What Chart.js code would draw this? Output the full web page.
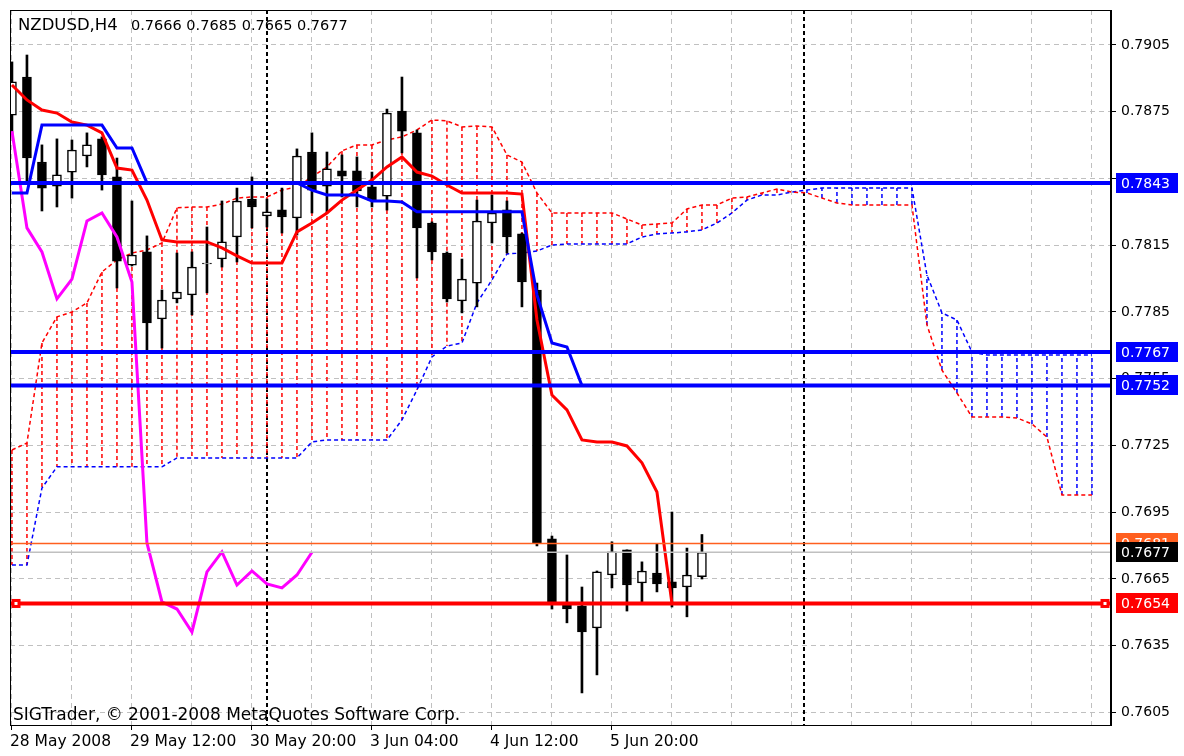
<!DOCTYPE html>
<html>
<head>
<meta charset="utf-8">
<script src="https://cdn.jsdelivr.net/npm/chart.js@4.4.1/dist/chart.umd.min.js"></script>
<style>
  html, body { margin: 0; padding: 0; background: #fff; }
  #wrap { position: relative; width: 1184px; height: 756px; }
</style>
</head>
<body>
<div id="wrap"><canvas id="grafico"></canvas></div>
<script>
// --- DATA ---
const titleText = 'NZDUSD,H4';
const lastQuote = '0.7666 0.7685 0.7665 0.7677';
const copyrightText = 'SIGTrader, \u00A9 2001-2008 MetaQuotes Software Corp.';

// candles, bar 0 = 28 May 2008
const opens  = [0.78735, 0.78906, 0.78524, 0.78416, 0.78479, 0.78551, 0.78628, 0.78457, 0.78061, 0.78120,
                0.77819, 0.77909, 0.77927, 0.78066, 0.78088, 0.78187, 0.78358, 0.78282, 0.78309, 0.78273,
                0.78569, 0.78416, 0.78484, 0.78484, 0.78412, 0.78371, 0.78753, 0.78655, 0.78250, 0.78115,
                0.77900, 0.77980, 0.78250, 0.78309, 0.78201, 0.77949, 0.76830, 0.76542, 0.76529, 0.76430,
                0.76668, 0.76781, 0.76632, 0.76677, 0.76637, 0.76614, 0.7666];
const highs  = [0.78974, 0.79005, 0.78601, 0.78628, 0.78623, 0.78655, 0.78637, 0.78542, 0.78349, 0.78192,
                0.77949, 0.78115, 0.78120, 0.78232, 0.78349, 0.78407, 0.78457, 0.78358, 0.78407, 0.78583,
                0.78655, 0.78569, 0.78556, 0.78547, 0.78479, 0.78762, 0.78906, 0.78668, 0.78255, 0.78120,
                0.78088, 0.78353, 0.78376, 0.78349, 0.78205, 0.77980, 0.76843, 0.76758, 0.76614, 0.76686,
                0.76817, 0.76781, 0.76727, 0.76807, 0.76951, 0.76789, 0.7685];
const lows   = [0.78646, 0.78430, 0.78304, 0.78322, 0.78362, 0.78502, 0.78398, 0.77958, 0.78057, 0.77670,
                0.77688, 0.77891, 0.77837, 0.77936, 0.78052, 0.78075, 0.78228, 0.78232, 0.78205, 0.78196,
                0.78295, 0.78295, 0.78367, 0.78322, 0.78322, 0.78308, 0.78565, 0.78003, 0.78084, 0.77895,
                0.77846, 0.77873, 0.78160, 0.78115, 0.77873, 0.76799, 0.76515, 0.76453, 0.76138, 0.76219,
                0.76610, 0.76506, 0.76542, 0.76592, 0.76524, 0.76480, 0.7665];
const closes = [0.78884, 0.78542, 0.78407, 0.78466, 0.78578, 0.78601, 0.78466, 0.78079, 0.78106, 0.77801,
                0.77904, 0.77940, 0.78052, 0.78070, 0.78165, 0.78349, 0.78322, 0.78300, 0.78277, 0.78551,
                0.78398, 0.78493, 0.78461, 0.78394, 0.78353, 0.78744, 0.78663, 0.78228, 0.78120, 0.77909,
                0.77998, 0.78259, 0.78295, 0.78187, 0.77985, 0.76812, 0.76547, 0.76515, 0.76412, 0.76682,
                0.76772, 0.76623, 0.76686, 0.76628, 0.76610, 0.76668, 0.7677];

// Ichimoku
const tenkan = [0.78870, 0.78803, 0.78758, 0.78744, 0.78704, 0.78690, 0.78655, 0.78497, 0.78488, 0.78353,
                0.78174, 0.78165, 0.78165, 0.78165, 0.78138, 0.78102, 0.78070, 0.78070, 0.78070, 0.78210,
                0.78250, 0.78295, 0.78353, 0.78398, 0.78443, 0.78502, 0.78547, 0.78479, 0.78461, 0.78421,
                0.78385, 0.78385, 0.78385, 0.78385, 0.78380, 0.77814, 0.77477, 0.77410, 0.77275, 0.77266,
                0.77266, 0.77248, 0.77172, 0.77041, 0.7654, 0.7654, 0.7654];
const kijun  = [0.78385, 0.78385, 0.78690, 0.78690, 0.78690, 0.78690, 0.78690, 0.78587, 0.78587, 0.7843,
                0.7843, 0.7843, 0.7843, 0.7843, 0.7843, 0.7843, 0.7843, 0.7843, 0.7843, 0.7843,
                0.78398, 0.78376, 0.78376, 0.78376, 0.78349, 0.78349, 0.78344, 0.78300, 0.78300, 0.78300,
                0.78300, 0.78300, 0.78300, 0.78300, 0.78300, 0.77927, 0.77711, 0.77693, 0.7752, 0.7752,
                0.7752, 0.7752, 0.7752, 0.7752, 0.7752, 0.7752, 0.7752];
const chikou = [0.78663, 0.78228, 0.78120, 0.77909, 0.77998, 0.78259, 0.78295, 0.78187, 0.77985, 0.76812,
                0.76547, 0.76515, 0.76412, 0.76682, 0.76772, 0.76623, 0.76686, 0.76628, 0.76610, 0.76668,
                0.7677];
const spanA  = [0.77230, 0.77261, 0.77711, 0.77828, 0.77850, 0.77891, 0.78030, 0.78084, 0.78115, 0.78129,
                0.78160, 0.78318, 0.78322, 0.78322, 0.78335, 0.78362, 0.78367, 0.78367, 0.78398, 0.78412,
                0.78457, 0.78502, 0.78574, 0.78601, 0.78601, 0.78623, 0.78637, 0.78668, 0.78713, 0.78709,
                0.78682, 0.78686, 0.78682, 0.78556, 0.78524, 0.78385, 0.78295, 0.78295, 0.78295, 0.78295,
                0.78295, 0.78268, 0.78241, 0.78246, 0.78250, 0.78313, 0.78331, 0.78331, 0.78362, 0.78367,
                0.78385, 0.78403, 0.78389, 0.78385, 0.78362, 0.78340, 0.78331, 0.78331, 0.78331, 0.78331,
                0.78331, 0.77792, 0.77589, 0.77486, 0.77378, 0.77378, 0.77378, 0.77374, 0.77347, 0.77288,
                0.77028, 0.77028, 0.77028];
const spanB  = [0.76713, 0.76713, 0.77059, 0.77154, 0.77154, 0.77154, 0.77154, 0.77154, 0.77154, 0.77154,
                0.77154, 0.77194, 0.77194, 0.77194, 0.77194, 0.77194, 0.77194, 0.77194, 0.77194, 0.77194,
                0.77266, 0.77275, 0.77275, 0.77275, 0.77275, 0.77275, 0.77365, 0.77500, 0.77648, 0.77697,
                0.77711, 0.77891, 0.77994, 0.78111, 0.78115, 0.78124, 0.78151, 0.78156, 0.78156, 0.78156,
                0.78156, 0.78156, 0.78187, 0.78201, 0.78205, 0.78210, 0.78219, 0.78250, 0.78295, 0.78353,
                0.78376, 0.78376, 0.78389, 0.78398, 0.78407, 0.78407, 0.78407, 0.78407, 0.78407, 0.78407,
                0.78407, 0.78016, 0.77846, 0.77814, 0.77670, 0.77657, 0.77657, 0.77657, 0.77657, 0.77657,
                0.77657, 0.77657, 0.77657];

// horizontal line objects and the bid line
const hLevels = [0.7843, 0.7767, 0.7752, 0.7677, 0.7681, 0.7654];
const hLabels = ['0.7843', '0.7767', '0.7752', '0.7677', '0.7681', '0.7654'];

// axes
const yTicks = [0.7605, 0.7635, 0.7665, 0.7695, 0.7725, 0.7755, 0.7785, 0.7815, 0.7845, 0.7875, 0.7905];
const yHiddenLabels = ['0.7845'];
const xLabelBars = [0, 8, 16, 24, 32, 40];
const xLabelText = ['28 May 2008', '29 May 12:00', '30 May 20:00', '3 Jun 04:00', '4 Jun 12:00', '5 Jun 20:00'];
const separatorBars = [17, 52.8];

// --- STYLES ---
const hStyles = [
    { color: '#0000ff', width: 4, box: '#0000ff' },
    { color: '#0000ff', width: 4, box: '#0000ff' },
    { color: '#0000ff', width: 4, box: '#0000ff' },
    { color: '#c0c0c0', width: 1.5, box: '#000000' },
    { color: '#ff5f1f', width: 1.5, box: '#ff5f1f' },
    { color: '#ff0000', width: 4, box: '#ff0000' }
];
const labelFont = '14px "DejaVu Sans"';
const textFont = '16.5px "DejaVu Sans"';

// --- BUILD DATASETS ---
const barIdx = opens.map((_, i) => i);
const wickData = barIdx.map(i => ({ x: i, y: [lows[i], highs[i]] }));
const bodyData = barIdx.map(i => ({ x: i, y: [opens[i], closes[i]] }));
const bodyFill = barIdx.map(i => closes[i] >= opens[i] ? '#ffffff' : '#000000');

const asPoints = arr => arr.map((v, i) => ({ x: i, y: v }));

const hatchRed = [];
const hatchBlue = [];
spanA.forEach((a, i) => {
    const b = spanB[i];
    const alvo = a >= b ? hatchRed : hatchBlue;
    alvo.push({ x: i, y: a }, { x: i, y: b }, { x: i, y: null });
});

const gridBars = [];
for (let k = 0; k <= 72; k += 4) gridBars.push(k);

// --- PLUGIN: separators, line objects, price boxes, texts ---
const mt4Plugin = {
    id: 'mt4',
    beforeDatasetsDraw(chart) {
        const { ctx, chartArea: a, scales: { x } } = chart;
        ctx.save();
        ctx.strokeStyle = '#000';
        ctx.lineWidth = 2;
        ctx.setLineDash([4, 3]);
        separatorBars.forEach(b => {
            const px = Math.round(x.getPixelForValue(b));
            ctx.beginPath();
            ctx.moveTo(px, a.top);
            ctx.lineTo(px, a.bottom);
            ctx.stroke();
        });
        ctx.restore();
    },
    afterDatasetsDraw(chart) {
        const { ctx, chartArea: a, scales: { y } } = chart;

        // horizontal lines
        ctx.save();
        ctx.beginPath();
        ctx.rect(a.left, a.top, a.right - a.left, a.bottom - a.top);
        ctx.clip();
        hLevels.forEach((lv, k) => {
            const py = y.getPixelForValue(lv);
            ctx.strokeStyle = hStyles[k].color;
            ctx.lineWidth = hStyles[k].width;
            ctx.beginPath();
            ctx.moveTo(a.left, py);
            ctx.lineTo(a.right, py);
            ctx.stroke();
        });
        // selection squares on the red line
        const pr = y.getPixelForValue(hLevels[5]);
        [a.left + 6, a.right - 6].forEach(cx => {
            ctx.fillStyle = '#ff0000';
            ctx.fillRect(cx - 4.5, pr - 4.5, 9, 9);
            ctx.fillStyle = '#ffffff';
            ctx.fillRect(cx - 1.5, pr - 1.5, 3, 3);
        });
        ctx.restore();

        // price boxes on the axis (orange before black so black sits on top)
        ctx.save();
        ctx.font = labelFont;
        ctx.textBaseline = 'middle';
        ctx.textAlign = 'left';
        [0, 1, 2, 4, 3, 5].forEach(k => {
            const py = Math.round(y.getPixelForValue(hLevels[k]));
            ctx.fillStyle = hStyles[k].box;
            ctx.fillRect(a.right + 5, py - 10, 62, 20);
            ctx.fillStyle = '#ffffff';
            ctx.fillText(hLabels[k], a.right + 10, py + 1);
        });

        // texts
        ctx.fillStyle = '#000';
        ctx.font = textFont;
        ctx.fillText(titleText, 18, 26);
        ctx.font = '17px "DejaVu Sans"';
        ctx.fillText(copyrightText, 13, 716);
        ctx.font = '14.5px "DejaVu Sans"';
        ctx.fillText(lastQuote, 131, 26);

        // frame
        ctx.strokeStyle = '#000';
        ctx.lineWidth = 1;
        ctx.strokeRect(a.left + 0.5, a.top + 0.5, a.right - a.left - 1, a.bottom - a.top);
        ctx.restore();
    }
};

// --- CHART ---
Chart.defaults.font.family = '"DejaVu Sans"';
Chart.defaults.font.size = 14;
Chart.defaults.color = '#000';

const lineBase = { type: 'line', pointRadius: 0, tension: 0, fill: false, spanGaps: false };

new Chart(document.getElementById('grafico').getContext('2d'), {
    data: {
        datasets: [
            { ...lineBase, label: 'Kijun-sen', data: asPoints(kijun), borderColor: '#0000ff', borderWidth: 3, order: 1 },
            { ...lineBase, label: 'Tenkan-sen', data: asPoints(tenkan), borderColor: '#ff0000', borderWidth: 3, order: 1.2 },
            { ...lineBase, label: 'Chikou Span', data: asPoints(chikou), borderColor: '#ff00ff', borderWidth: 3, order: 1.1 },
            {
                type: 'bar', label: 'Body', data: bodyData, backgroundColor: bodyFill,
                borderColor: '#000', borderWidth: 1.5, borderSkipped: false,
                barThickness: 9, grouped: false, order: 2
            },
            {
                type: 'bar', label: 'Wick', data: wickData, backgroundColor: '#000',
                borderWidth: 0, barThickness: 2, grouped: false, order: 3
            },
            { ...lineBase, label: 'Senkou Span A', data: asPoints(spanA), borderColor: '#ff0000', borderWidth: 1.5, borderDash: [4, 3], order: 4 },
            { ...lineBase, label: 'Senkou Span B', data: asPoints(spanB), borderColor: '#0000ff', borderWidth: 1.5, borderDash: [4, 3], order: 4 },
            { ...lineBase, label: 'Cloud up', data: hatchRed, borderColor: '#ff0000', borderWidth: 1.5, borderDash: [4, 3], order: 5 },
            { ...lineBase, label: 'Cloud down', data: hatchBlue, borderColor: '#0000ff', borderWidth: 1.5, borderDash: [4, 3], order: 5 }
        ]
    },
    options: {
        responsive: true,
        maintainAspectRatio: false,
        animation: false,
        layout: { padding: { left: 10, top: 10, right: 0, bottom: 0 } },
        plugins: { legend: { display: false }, tooltip: { enabled: false } },
        scales: {
            x: {
                type: 'linear',
                offset: false,
                min: -0.13,
                max: 73.27,
                afterBuildTicks: s => { s.ticks = gridBars.map(v => ({ value: v })); },
                afterFit: s => { s.height = 31; s.paddingLeft = 0; s.paddingRight = 0; },
                grid: {
                    offset: false,
                    color: '#c0c0c0',
                    lineWidth: 1,
                    tickLength: 5,
                    tickColor: ctx => (ctx.tick && xLabelBars.includes(ctx.tick.value)) ? '#000' : 'rgba(0,0,0,0)'
                },
                border: { display: true, color: '#000', width: 1, dash: [5, 4] },
                ticks: {
                    autoSkip: false,
                    maxRotation: 0,
                    align: 'start',
                    labelOffset: -2,
                    padding: 3,
                    font: { size: 15.5 },
                    callback: v => {
                        const k = xLabelBars.indexOf(v);
                        return k >= 0 ? xLabelText[k] : '';
                    }
                }
            },
            y: {
                position: 'right',
                min: 0.759938,
                max: 0.792073,
                afterBuildTicks: s => { s.ticks = yTicks.map(v => ({ value: v })); },
                afterFit: s => { s.width = 73; s.paddingTop = 0; s.paddingBottom = 0; },
                grid: { color: '#c0c0c0', lineWidth: 1, tickLength: 5, tickColor: '#000' },
                border: { display: true, color: '#000', width: 1, dash: [5, 4] },
                ticks: {
                    padding: 5,
                    callback: v => {
                        const txt = v.toFixed(4);
                        return yHiddenLabels.includes(txt) ? '' : txt;
                    }
                }
            }
        }
    },
    plugins: [mt4Plugin]
});
</script>
</body>
</html>
